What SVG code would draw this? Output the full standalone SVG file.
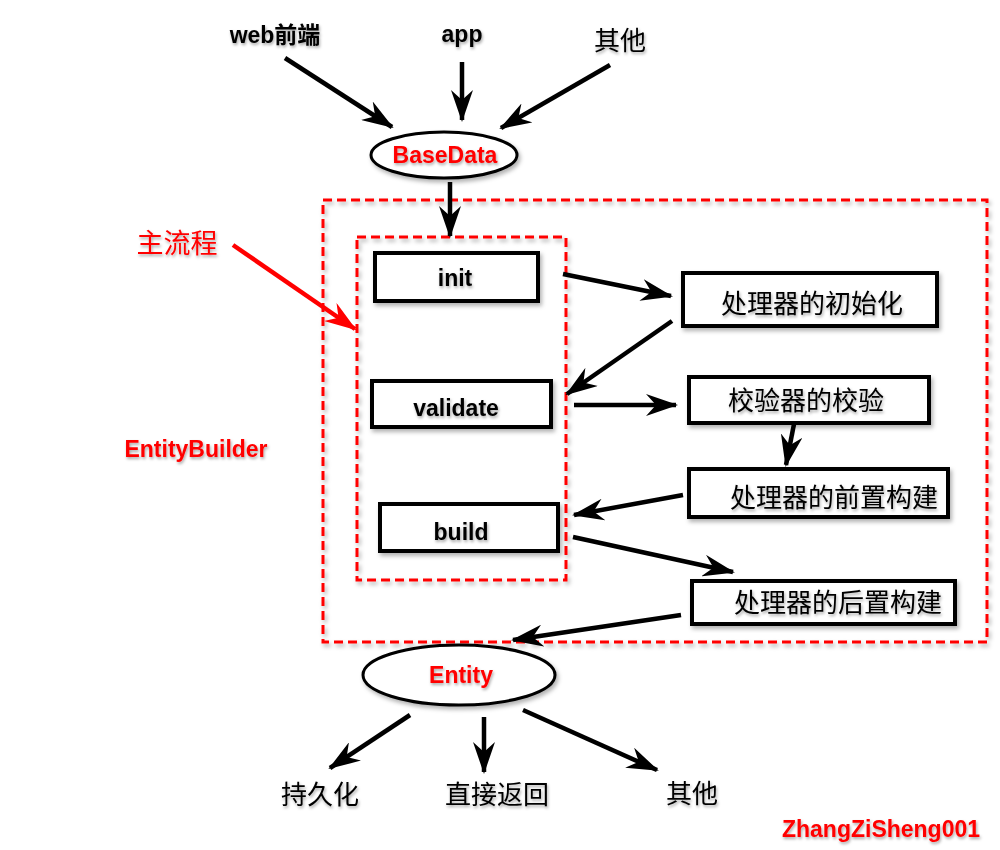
<svg xmlns="http://www.w3.org/2000/svg" width="1000" height="850" viewBox="0 0 1000 850">
<style>
.bg{fill:#ffffff}
.box{fill:#ffffff;stroke:#000;stroke-width:4;filter:url(#sh)}
.ell{fill:#ffffff;stroke:#000;stroke-width:3;filter:url(#sh)}
.dash{fill:none;stroke:#ff0000;stroke-width:3;stroke-dasharray:9,5;filter:url(#sh)}
.con{fill:none;stroke:#000;stroke-width:4.5;marker-end:url(#ah)}
.red{fill:none;stroke:#ff0000;stroke-width:4.5;marker-end:url(#ahr)}
.lb{font-family:"Liberation Sans","Noto Sans CJK SC",sans-serif;font-weight:bold;font-size:23px;fill:#000;text-anchor:middle;filter:url(#tsh)}
.cj{font-family:"Noto Sans CJK SC",sans-serif;font-size:26px;fill:#000;text-anchor:middle;filter:url(#tsh)}
.rb{font-family:"Liberation Sans","Noto Sans CJK SC",sans-serif;font-weight:bold;font-size:23px;fill:#ff0000;text-anchor:middle;filter:url(#tsh)}
.rc{font-family:"Noto Sans CJK SC",sans-serif;font-size:27px;fill:#ff0000;text-anchor:middle;filter:url(#tsh)}
</style>
<defs>
<filter id="sh" x="-10%" y="-10%" width="130%" height="130%">
<feDropShadow dx="2" dy="3" stdDeviation="2" flood-color="#000" flood-opacity="0.3"/>
</filter>
<filter id="tsh" x="-10%" y="-20%" width="130%" height="150%">
<feDropShadow dx="1" dy="2" stdDeviation="1.5" flood-color="#000" flood-opacity="0.35"/>
</filter>
<marker id="ah" viewBox="0 0 32 22" refX="30" refY="11" markerWidth="32" markerHeight="22" orient="auto" markerUnits="userSpaceOnUse">
<path d="M0,0 L32,11 L0,22 L10,11 z" fill="#000"/>
</marker>
<marker id="ahr" viewBox="0 0 32 22" refX="30" refY="11" markerWidth="32" markerHeight="22" orient="auto" markerUnits="userSpaceOnUse">
<path d="M0,0 L32,11 L0,22 L10,11 z" fill="#ff0000"/>
</marker>
</defs>
<rect class="bg" x="0" y="0" width="1000" height="850"/>

<g id="entitybuilder">
<rect class="dash" x="323" y="200" width="664" height="442"/>
<text class="rb" x="196" y="457">EntityBuilder</text>
</g>
<g id="mainflow">
<rect class="dash" x="357" y="237" width="209" height="343"/>
<text class="rc" x="177" y="253">主流程</text>
</g>

<g id="web"><text class="lb" x="275" y="43">web前端</text></g>
<g id="app"><text class="lb" x="462" y="42">app</text></g>
<g id="other-in"><text class="cj" x="620" y="50">其他</text></g>

<g id="basedata">
<ellipse class="ell" cx="444" cy="155" rx="73" ry="23"/>
<text class="rb" x="445" y="163">BaseData</text>
</g>

<g id="init">
<rect class="box" x="375" y="253" width="163" height="48"/>
<text class="lb" x="455" y="286">init</text>
</g>
<g id="validate">
<rect class="box" x="372" y="381" width="179" height="46"/>
<text class="lb" x="456" y="416">validate</text>
</g>
<g id="build">
<rect class="box" x="380" y="504" width="178" height="47"/>
<text class="lb" x="461" y="540">build</text>
</g>

<g id="proc-init">
<rect class="box" x="683" y="273" width="254" height="53"/>
<text class="cj" x="812" y="313">处理器的初始化</text>
</g>
<g id="validator">
<rect class="box" x="689" y="377" width="240" height="46"/>
<text class="cj" x="806" y="410">校验器的校验</text>
</g>
<g id="proc-pre">
<rect class="box" x="689" y="469" width="259" height="48"/>
<text class="cj" x="834" y="507">处理器的前置构建</text>
</g>
<g id="proc-post">
<rect class="box" x="692" y="581" width="263" height="43"/>
<text class="cj" x="838" y="612">处理器的后置构建</text>
</g>

<g id="entity">
<ellipse class="ell" cx="459" cy="675" rx="96" ry="30"/>
<text class="rb" x="461" y="683">Entity</text>
</g>

<g id="persist"><text class="cj" x="320" y="804">持久化</text></g>
<g id="return"><text class="cj" x="497" y="804">直接返回</text></g>
<g id="other-out"><text class="cj" x="692" y="803">其他</text></g>

<g id="watermark"><text class="rb" x="881" y="837">ZhangZiSheng001</text></g>

<g id="connectors">
<line class="con" x1="285" y1="58" x2="392" y2="127"/>
<line class="con" x1="462" y1="62" x2="462" y2="120"/>
<line class="con" x1="610" y1="65" x2="501" y2="128"/>
<line class="con" x1="450" y1="182" x2="450" y2="236"/>
<line class="con" x1="563" y1="274" x2="671" y2="296"/>
<line class="con" x1="672" y1="321" x2="567" y2="394"/>
<line class="con" x1="574" y1="405" x2="676" y2="405"/>
<line class="con" x1="794" y1="424" x2="786" y2="465"/>
<line class="con" x1="683" y1="495" x2="574" y2="515"/>
<line class="con" x1="573" y1="537" x2="733" y2="572"/>
<line class="con" x1="681" y1="615" x2="513" y2="640"/>
<line class="con" x1="410" y1="715" x2="330" y2="768"/>
<line class="con" x1="484" y1="717" x2="484" y2="772"/>
<line class="con" x1="523" y1="710" x2="657" y2="770"/>
<line class="red" x1="233" y1="245" x2="355" y2="329"/>
</g>
</svg>
